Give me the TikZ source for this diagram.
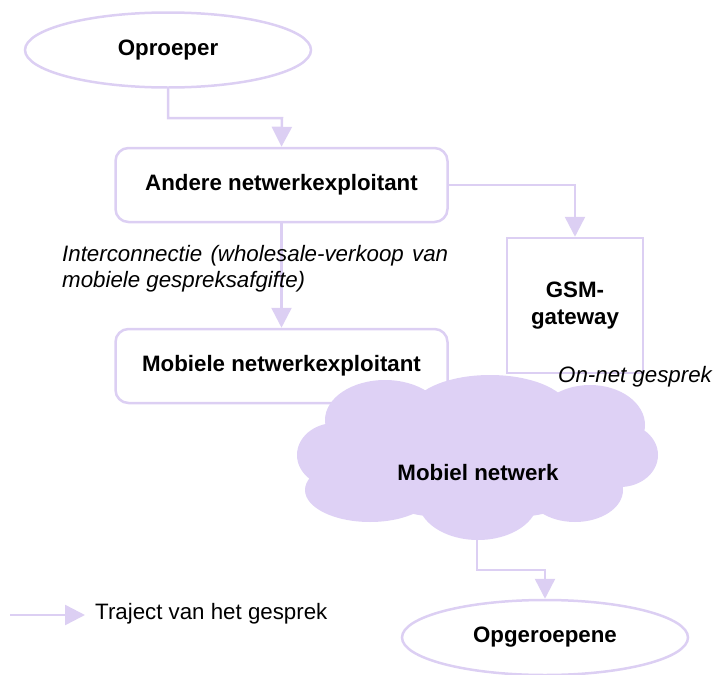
\documentclass[tikz,border=0pt]{standalone}
\usepackage{fontspec}
\setmainfont{Liberation Sans}
\usetikzlibrary{shapes.geometric,arrows.meta}
\definecolor{lav}{RGB}{220,207,243}
\definecolor{cloudc}{RGB}{222,209,245}
\begin{document}
\begin{tikzpicture}[x=1pt,y=-1pt,
  every node/.style={font=\fontsize{22.3}{26}\selectfont, inner sep=0pt},
  lbox/.style={draw=lav, line width=2.5pt, rounded corners=13pt, minimum width=332pt, minimum height=74pt, font=\fontsize{22.3}{26}\selectfont\bfseries},
  sbox/.style={draw=lav, line width=2.5pt, minimum width=136pt, minimum height=135pt, align=center, font=\fontsize{22.3}{27}\selectfont\bfseries},
  ell/.style={draw=lav, line width=2.5pt, ellipse, minimum width=286pt, minimum height=75pt, font=\fontsize{22.3}{26}\selectfont\bfseries},
  conn/.style={draw=lav, line width=2.5pt, -{Triangle[width=20pt,length=20pt]}},
  lbl/.style={font=\fontsize{22.3}{26}\selectfont\itshape, align=left}
]
\useasboundingbox (0,0) rectangle (716,675);

% nodes
\node[ell] (oproeper) at (168,50) {Oproeper};
\node[lbox] (andere) at (281.5,185) {Andere netwerkexploitant};
\node[sbox] (gsm) at (575,305.5) {GSM-\\gateway};
\node[lbox] (mobiele) at (281.5,366) {Mobiele netwerkexploitant};
\node[ell] (opg) at (545,637.5) {Opgeroepene};

% connectors
\coordinate (e1) at (282,118);
\draw[conn] (oproeper.south) |- (e1) -- (andere.north);
\draw[conn] (andere.east) -| (gsm.north);
\draw[conn] (andere.south) -- (mobiele.north);

\node[lbl, anchor=west] (inter) at (62,269)
  {\makebox[386pt][s]{Interconnectie (wholesale-verkoop van}\\mobiele gespreksafgifte)};

% cloud
\fill[cloudc]
  (478,458) ellipse [x radius=150pt, y radius=62pt]
  (385,420) ellipse [x radius=60pt, y radius=40pt]
  (490,412) ellipse [x radius=80pt, y radius=37pt]
  (590,425) ellipse [x radius=55pt, y radius=40pt]
  (620,455) ellipse [x radius=38pt, y radius=32pt]
  (575,490) ellipse [x radius=48pt, y radius=32pt]
  (478,500) ellipse [x radius=60pt, y radius=40pt]
  (370,490) ellipse [x radius=65pt, y radius=32pt]
  (335,455) ellipse [x radius=38pt, y radius=32pt];
\node[font=\fontsize{22.3}{26}\selectfont\bfseries] (mobnet) at (478,473) {Mobiel netwerk};
\node[lbl, anchor=west] (onnet) at (558,377) {On-net gesprek};

\coordinate (cloudbot) at (477,540);
\coordinate (e2) at (545,570);
\draw[conn] (cloudbot) |- (e2) -- (opg.north);

% legend
\coordinate (legA) at (10,615);
\coordinate (legB) at (85,615);
\draw[conn] (legA) -- (legB);
\node[anchor=west] (legtxt) at (95,614) {Traject van het gesprek};
\end{tikzpicture}
\end{document}
